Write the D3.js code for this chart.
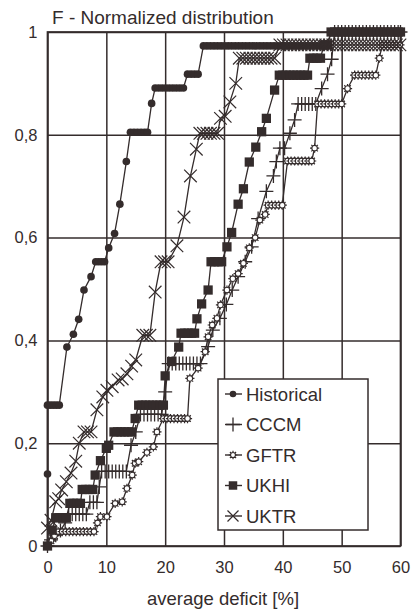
<!DOCTYPE html>
<html><head><meta charset="utf-8">
<script src="https://cdn.jsdelivr.net/npm/d3@7"></script>
<style>
html,body{margin:0;padding:0;background:#fff;}
svg{display:block;font-family:"Liberation Sans",Arial,sans-serif;}
</style></head><body>
<svg id="chart" width="411" height="616"></svg>
<script>
// Axis ticks
const xTicks = [0, 10, 20, 30, 40, 50, 60];
const yTicks = [0, 0.2, 0.4, 0.6, 0.8, 1];
const seriesNames = ["Historical", "CCCM", "GFTR", "UKHI", "UKTR"];

// Normalized cumulative distributions: [average deficit %, F]
const historical = [
[0,0],[0,0.14],[0,0.274],[0.5,0.274],[1.0,0.274],[1.5,0.274],[2.0,0.274],[3.3,0.387],[4.4,0.412],[5.3,0.441],[6.2,0.498],[7.4,0.524],[8.2,0.553],[8.7,0.553],[9.2,0.553],[9.7,0.553],[10.4,0.58],[11.4,0.608],[12.3,0.665],[13.4,0.748],[14.1,0.805],[14.7,0.805],[15.3,0.805],[15.9,0.805],[16.5,0.805],[17.0,0.805],[17.7,0.861],[18.3,0.891],[18.9,0.891],[19.5,0.891],[20.1,0.891],[20.7,0.891],[21.3,0.891],[21.9,0.891],[22.5,0.891],[23.1,0.891],[23.8,0.918],[24.4,0.918],[25.0,0.918],[25.6,0.918],[26.5,0.973],[27.1,0.973],[27.7,0.973],[28.3,0.973],[28.9,0.973],[29.5,0.973],[30.1,0.973],[30.7,0.973],[31.3,0.973],[31.9,0.973],[32.5,0.973],[33.1,0.973],[33.7,0.973],[34.3,0.973],[34.9,0.973],[35.5,0.973],[36.1,0.973],[36.7,0.973],[37.3,0.973],[37.9,0.973],[38.5,0.973],[39.1,0.973],[39.7,0.973],[40.3,0.973],[40.9,0.973],[41.5,0.973],[42.1,0.973],[42.7,0.973],[43.3,0.973],[43.9,0.973],[44.5,0.973],[45.1,0.973],[45.7,0.973],[46.3,0.973],[46.9,0.973],[47.5,0.973],[48.2,1],[48.8,1],[49.4,1],[50.0,1],[50.6,1],[51.2,1],[51.8,1],[52.4,1],[53.0,1],[53.6,1],[54.2,1],[54.8,1],[55.4,1],[56.0,1],[56.6,1],[57.2,1],[57.8,1],[58.4,1],[59.0,1],[59.6,1],[60,1]
];
const cccm = [
[0,0],[0.6,0.012],[1.4,0.021],[2.2,0.03],[3.0,0.045],[3.6,0.062],[4.2,0.062],[4.8,0.062],[5.4,0.062],[6.0,0.062],[6.6,0.062],[7.2,0.085],[7.8,0.085],[8.4,0.085],[8.8,0.115],[9.2,0.145],[9.8,0.145],[10.4,0.145],[11.0,0.145],[11.6,0.145],[12.2,0.145],[12.8,0.145],[13.4,0.145],[14.2,0.196],[15.0,0.222],[15.8,0.256],[16.4,0.256],[17.0,0.256],[17.6,0.256],[18.2,0.256],[18.8,0.256],[19.4,0.256],[20.0,0.3],[20.6,0.355],[21.2,0.355],[21.8,0.355],[22.4,0.355],[23.0,0.355],[23.6,0.355],[24.2,0.355],[24.8,0.355],[25.4,0.355],[26.0,0.355],[27.3,0.388],[28.1,0.42],[29.3,0.443],[30.4,0.47],[31.4,0.498],[32.4,0.524],[33.6,0.553],[34.7,0.582],[35.8,0.637],[37.2,0.69],[38.4,0.72],[38.9,0.748],[39.5,0.774],[40.3,0.774],[41.2,0.803],[42.0,0.829],[42.6,0.86],[43.2,0.86],[43.8,0.86],[44.4,0.86],[45.0,0.86],[45.6,0.86],[46.6,0.89],[47.6,0.918],[48.3,0.947],[48.8,1],[49.4,1],[50.0,1],[50.6,1],[51.2,1],[51.8,1],[52.4,1],[53.0,1],[53.6,1],[54.2,1],[54.8,1],[55.4,1],[56.0,1],[56.6,1],[57.2,1],[57.8,1],[58.4,1],[59.0,1],[59.6,1],[60,1]
];
const gftr = [
[0,0],[0.6,0.01],[1.2,0.02],[1.8,0.028],[2.5,0.028],[3.1,0.028],[3.7,0.028],[4.3,0.028],[4.9,0.028],[5.5,0.028],[6.1,0.028],[6.7,0.028],[7.3,0.028],[7.9,0.028],[8.5,0.045],[9.0,0.057],[10.1,0.057],[11.5,0.083],[12.7,0.086],[13.5,0.112],[14.4,0.138],[14.9,0.161],[15.5,0.164],[16.9,0.182],[18.0,0.193],[18.6,0.222],[19.7,0.248],[20.3,0.248],[20.9,0.248],[21.5,0.248],[22.1,0.248],[22.7,0.248],[23.3,0.248],[23.8,0.248],[24.2,0.326],[25.6,0.346],[26.8,0.378],[27.3,0.407],[28.0,0.43],[28.8,0.443],[29.4,0.469],[30.5,0.498],[31.5,0.52],[32.4,0.53],[33.3,0.55],[34.3,0.58],[35.3,0.6],[36.1,0.634],[37.0,0.645],[37.5,0.663],[38.1,0.663],[38.7,0.663],[39.3,0.663],[39.9,0.663],[40.8,0.749],[41.4,0.749],[42.0,0.749],[42.6,0.749],[43.2,0.749],[43.8,0.749],[44.4,0.749],[44.9,0.749],[45.4,0.774],[45.9,0.86],[46.5,0.86],[47.1,0.86],[47.7,0.86],[48.3,0.86],[48.9,0.86],[49.5,0.86],[50.0,0.86],[51.0,0.89],[52.2,0.916],[52.8,0.916],[53.4,0.916],[54.0,0.916],[54.6,0.916],[55.2,0.916],[55.8,0.916],[56.4,0.949],[56.9,0.975],[57.5,0.975],[58.1,0.975],[58.7,0.975],[59.3,0.975],[59.9,0.975]
];
const ukhi = [
[0,0],[0.8,0.031],[1.4,0.055],[2.0,0.055],[2.6,0.055],[3.2,0.055],[3.8,0.083],[4.4,0.083],[5.0,0.083],[5.6,0.083],[5.9,0.11],[6.5,0.11],[7.1,0.11],[7.7,0.11],[8.1,0.138],[9.0,0.166],[10.0,0.19],[10.4,0.196],[11.3,0.222],[11.9,0.222],[12.5,0.222],[13.1,0.222],[13.7,0.222],[14.3,0.222],[14.9,0.248],[15.5,0.274],[16.1,0.274],[16.7,0.274],[17.3,0.274],[17.9,0.274],[18.5,0.274],[19.1,0.274],[19.7,0.274],[20.0,0.331],[21.1,0.359],[22.3,0.387],[22.7,0.414],[23.3,0.414],[23.9,0.414],[24.5,0.414],[25.0,0.414],[25.4,0.442],[26.2,0.471],[27.3,0.498],[27.8,0.553],[28.4,0.553],[29.0,0.553],[29.6,0.553],[30.5,0.582],[31.3,0.61],[32.4,0.665],[33.3,0.695],[34.3,0.747],[35.4,0.776],[36.4,0.806],[37.2,0.832],[38.6,0.887],[39.4,0.916],[40.0,0.916],[40.6,0.916],[41.2,0.916],[41.8,0.916],[42.4,0.916],[43.0,0.916],[43.6,0.916],[44.2,0.916],[44.6,0.949],[45.2,0.949],[45.8,0.949],[46.4,0.949],[47.0,0.975],[47.6,0.975],[48.2,1],[48.8,1],[49.4,1],[50.0,1],[50.6,1],[51.2,1],[51.8,1],[52.4,1],[53.0,1],[53.6,1],[54.2,1],[54.8,1],[55.4,1],[56.0,1],[56.6,1],[57.2,1],[57.8,1],[58.4,1],[59.0,1],[59.6,1],[60,1]
];
const uktr = [
[0,0.035],[0.6,0.05],[1.4,0.086],[1.9,0.092],[2.4,0.109],[3.2,0.125],[4.0,0.142],[4.8,0.165],[5.4,0.2],[6.2,0.222],[6.8,0.222],[7.4,0.222],[8.4,0.265],[9.4,0.29],[10.1,0.303],[11.0,0.31],[12.0,0.323],[12.7,0.325],[13.5,0.335],[14.3,0.35],[15.0,0.362],[16.2,0.41],[16.8,0.41],[17.4,0.41],[18.3,0.494],[19.3,0.553],[19.9,0.553],[20.5,0.553],[22.0,0.584],[23.2,0.64],[24.3,0.72],[25.3,0.772],[25.9,0.803],[26.5,0.803],[27.1,0.803],[27.7,0.803],[28.3,0.803],[28.9,0.803],[29.4,0.832],[30.2,0.836],[31.0,0.864],[32.0,0.9],[32.6,0.949],[33.2,0.949],[33.8,0.949],[34.4,0.949],[35.0,0.949],[35.6,0.949],[36.2,0.949],[36.8,0.949],[37.4,0.949],[38.0,0.949],[38.6,0.949],[39.5,0.975],[40.1,0.975],[40.7,0.975],[41.3,0.975],[41.9,0.975],[42.5,0.975],[43.1,0.975],[43.7,0.975],[44.3,0.975],[44.9,0.975],[45.5,0.975],[46.1,0.975],[46.7,0.975],[47.3,0.975],[47.9,0.975],[48.5,0.975],[49.1,0.975],[49.7,0.975],[50.3,0.975],[50.9,0.975],[51.5,0.975],[52.1,0.975],[52.7,0.975],[53.3,0.975],[53.9,0.975],[54.5,0.975],[55.1,0.975],[55.7,0.975],[56.3,0.975],[56.9,0.975],[57.5,0.975],[58.1,0.975],[58.7,0.975],[59.3,0.975],[59.9,0.975]
];

const ink = "#342c2c";
const W = 411, H = 616;
const x = d3.scaleLinear().domain([0, 60]).range([47.5, 400.5]);
const y = d3.scaleLinear().domain([0, 1]).range([546, 32]);
const svg = d3.select("#chart");
svg.append("rect").attr("width", W).attr("height", H).attr("fill", "#fff");

const decimalComma = d3.formatLocale({decimal: ",", thousands: ".", grouping: [3], currency: ["", ""]}).format("~g");

// Grid and tick labels
const gx = svg.append("g").attr("transform", `translate(0,${y(0)})`)
  .call(d3.axisBottom(x).tickValues(xTicks).tickSize(-(y(0) - y(1))).tickPadding(15).tickFormat(d => d));
gx.select(".domain").remove();
gx.selectAll(".tick line").attr("stroke", ink).attr("stroke-width", 1.5);
gx.selectAll(".tick text").attr("font-size", 16.5).attr("fill", ink).attr("font-family", "Liberation Sans, Arial, sans-serif");

const gy = svg.append("g").attr("transform", `translate(${x(0)},0)`)
  .call(d3.axisLeft(y).tickValues(yTicks).tickSize(-(x(60) - x(0))).tickPadding(10).tickFormat(decimalComma));
gy.select(".domain").remove();
gy.selectAll(".tick line").attr("stroke", ink).attr("stroke-width", 1.5);
gy.selectAll(".tick text").attr("font-size", 16.5).attr("fill", ink).attr("font-family", "Liberation Sans, Arial, sans-serif");

// Plot frame
svg.append("rect").attr("x", x(0)).attr("y", y(1)).attr("width", x(60) - x(0)).attr("height", y(0) - y(1))
  .attr("fill", "none").attr("stroke", ink).attr("stroke-width", 1.7);

// Marker shapes
const plusSym = {draw(c, s) { c.moveTo(-s, 0); c.lineTo(s, 0); c.moveTo(0, -s); c.lineTo(0, s); }};
const crossSym = {draw(c, s) { c.moveTo(-s, -s); c.lineTo(s, s); c.moveTo(-s, s); c.lineTo(s, -s); }};
const gearSym = {draw(c, s) {
  c.moveTo(s, 0); c.arc(0, 0, s, 0, 2 * Math.PI);
  for (let i = 0; i < 8; i++) {
    const a = i * Math.PI / 4;
    c.moveTo(s * Math.cos(a), s * Math.sin(a));
    c.lineTo((s + 1.8) * Math.cos(a), (s + 1.8) * Math.sin(a));
  }
}};

const styles = {
  Historical: {data: historical, sym: d3.symbol().type(d3.symbolCircle).size(46), fill: ink, stroke: "none", sw: 0},
  CCCM: {data: cccm, sym: d3.symbol().type(plusSym).size(7), fill: "none", stroke: ink, sw: 1.3},
  GFTR: {data: gftr, sym: d3.symbol().type(gearSym).size(2.8), fill: "#fff", stroke: ink, sw: 1.2},
  UKHI: {data: ukhi, sym: d3.symbol().type(d3.symbolSquare).size(86), fill: ink, stroke: "none", sw: 0},
  UKTR: {data: uktr, sym: d3.symbol().type(crossSym).size(6.3), fill: "none", stroke: ink, sw: 1.2}
};

const line = d3.line().x(d => x(d[0])).y(d => y(d[1]));
const plot = svg.append("g");
seriesNames.forEach(name => {
  const s = styles[name];
  const g = plot.append("g");
  g.append("path").attr("d", line(s.data)).attr("fill", "none").attr("stroke", ink).attr("stroke-width", 1.3);
  g.selectAll("path.m").data(s.data).join("path").attr("class", "m")
    .attr("transform", d => `translate(${x(d[0])},${y(d[1])})`)
    .attr("d", s.sym).attr("fill", s.fill).attr("stroke", s.stroke).attr("stroke-width", s.sw);
});

// Title and axis title
svg.append("text").attr("x", 52).attr("y", 24).attr("font-size", 19).attr("fill", ink)
  .text("F - Normalized distribution");
svg.append("text").attr("x", 223).attr("y", 605).attr("text-anchor", "middle").attr("font-size", 18.5).attr("fill", ink)
  .text("average deficit [%]");

// Legend
const lg = svg.append("g");
lg.append("rect").attr("x", 218).attr("y", 379).attr("width", 150).attr("height", 151)
  .attr("fill", "#fff").attr("stroke", ink).attr("stroke-width", 1.5);
const legendSyms = {
  Historical: d3.symbol().type(d3.symbolCircle).size(34),
  CCCM: d3.symbol().type(plusSym).size(7),
  GFTR: d3.symbol().type(gearSym).size(2.5),
  UKHI: d3.symbol().type(d3.symbolSquare).size(72),
  UKTR: d3.symbol().type(crossSym).size(5.5)
};
seriesNames.forEach((name, i) => {
  const cy = 394 + i * 30.5;
  const s = styles[name];
  lg.append("line").attr("x1", 225).attr("x2", 242).attr("y1", cy).attr("y2", cy).attr("stroke", ink).attr("stroke-width", 1.4);
  lg.append("path").attr("transform", `translate(233,${cy})`).attr("d", legendSyms[name])
    .attr("fill", s.fill).attr("stroke", s.stroke).attr("stroke-width", s.sw);
  lg.append("text").attr("x", 246).attr("y", cy + 6.5).attr("font-size", 18.5).attr("fill", ink).text(name);
});
</script>
</body></html>
